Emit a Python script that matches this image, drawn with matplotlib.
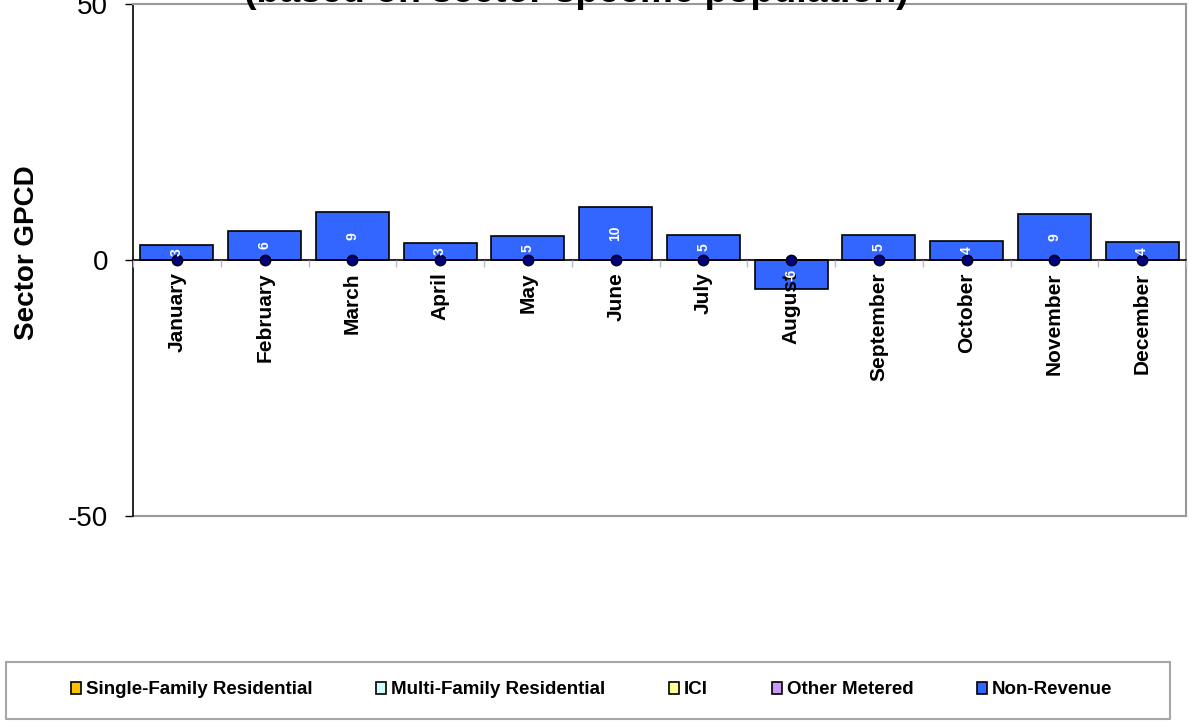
import matplotlib
matplotlib.use("Agg")
import matplotlib.pyplot as plt
from matplotlib.patches import Patch, Rectangle
import numpy as np

plt.rcParams['font.family'] = ['Liberation Sans', 'DejaVu Sans']
plt.rcParams['axes.unicode_minus'] = False

months = ["January", "February", "March", "April", "May", "June",
          "July", "August", "September", "October", "November", "December"]
single_family = [0, 0, 0, 0, 0, 0, 0, 0, 0, 0, 0, 0]
multi_family = [0, 0, 0, 0, 0, 0, 0, 0, 0, 0, 0, 0]
ici = [0, 0, 0, 0, 0, 0, 0, 0, 0, 0, 0, 0]
other_metered = [0, 0, 0, 0, 0, 0, 0, 0, 0, 0, 0, 0]
non_revenue = [2.9, 5.7, 9.4, 3.3, 4.6, 10.4, 4.9, -5.7, 4.9, 3.8, 9.0, 3.6]
total_marker = [0, 0, 0, 0, 0, 0, 0, 0, 0, 0, 0, 0]

series_names = ["Single-Family Residential", "Multi-Family Residential",
                "ICI", "Other Metered", "Non-Revenue"]
series_colors = ["#FFC000", "#CCFFFF", "#FFFF99", "#CC99FF", "#3366FF"]

W, H = 1193, 727
fig = plt.figure(figsize=(W / 100, H / 100), dpi=100)
ax = fig.add_axes([133 / W, 1 - 516 / H, (1186 - 133) / W, (516 - 4) / H])

x = np.arange(len(months))
bw = 0.83
for vals, col in zip([single_family, multi_family, ici, other_metered],
                     series_colors[:4]):
    ax.bar(x, vals, bw, color=col, edgecolor="black", linewidth=1.2, zorder=2)
bars = ax.bar(x, non_revenue, bw, color=series_colors[4], edgecolor="black",
              linewidth=1.2, zorder=2)

for xi, v in zip(x, non_revenue):
    ax.text(xi, v / 2, f"{v:.0f}", rotation=90, ha="center", va="center",
            color="white", fontsize=10, fontweight="bold", zorder=7)

ax.plot(x, total_marker, linestyle="none", marker="o", markersize=7.5,
        markerfacecolor="#000080", markeredgecolor="black",
        markeredgewidth=1, zorder=4, clip_on=False)

ax.set_xlim(-0.5, len(months) - 0.5)
ax.set_ylim(-50, 50)
ax.set_yticks([-50, 0, 50])
ax.tick_params(axis="y", direction="out", length=6, width=1, color="black",
               labelsize=20, pad=12)

# x axis sits on the zero line
ax.spines["bottom"].set_position(("data", 0))
ax.spines["bottom"].set_color("black")
ax.spines["bottom"].set_linewidth(1.2)
ax.spines["bottom"].set_zorder(3)
for s in ["top", "right"]:
    ax.spines[s].set_color("#999999")
    ax.spines[s].set_linewidth(1.5)
ax.spines["left"].set_color("black")
ax.spines["left"].set_linewidth(1.2)
ax.plot([0, 1], [0, 0], transform=ax.transAxes, color="#999999",
        linewidth=1.5, clip_on=False)

ax.set_xticks(x)
ax.set_xticklabels(months, rotation=90, fontsize=15, fontweight="bold",
                   va="top", ha="center")
ax.tick_params(axis="x", which="major", length=0, pad=9)
ax.set_xticks(np.arange(len(months) + 1) - 0.5, minor=True)
ax.tick_params(axis="x", which="minor", length=5, width=1, color="#BBBBBB",
               direction="out")
ax.xaxis.set_zorder(6)

fig.text(27 / W, 1 - 253 / H, "Sector GPCD", rotation=90, ha="center",
         va="center", fontsize=20, fontweight="bold")

fig.text(576 / W, 1 - 2.5 / H, "(based on sector specific population)",
         ha="center", va="baseline", fontsize=27, fontweight="bold")

# legend frame and entries
fig.patches.append(Rectangle((6 / W, 1 - 719 / H), (1170 - 6) / W,
                             (719 - 662) / H, transform=fig.transFigure,
                             facecolor="white", edgecolor="#A6A6A6",
                             linewidth=1.5, zorder=0))
handles = [Patch(facecolor=c, edgecolor="black", linewidth=1.2)
           for c in series_colors]
fig.legend(handles, series_names, loc="center",
           bbox_to_anchor=(591.5 / W, 1 - 690 / H), ncol=5, frameon=False,
           prop={"weight": "bold", "size": 13.5}, handlelength=0.55,
           handleheight=0.55, handletextpad=0.25, columnspacing=3.4)

fig.savefig("out.png", dpi=100)
